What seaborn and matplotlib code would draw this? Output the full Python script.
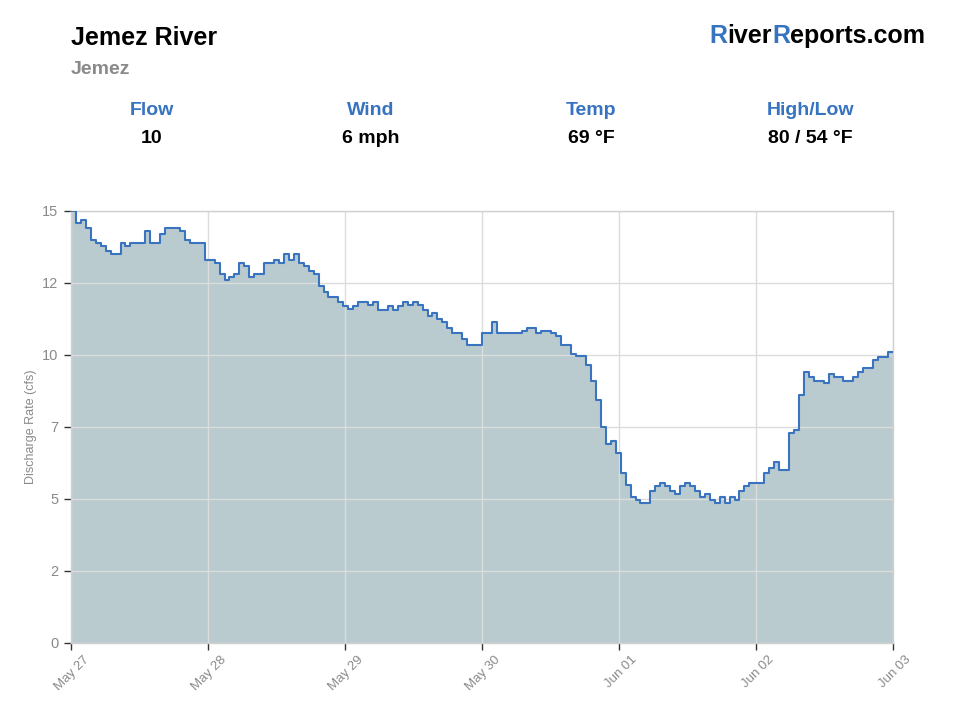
import numpy as np
import pandas as pd
import matplotlib
matplotlib.use("Agg")
import matplotlib.pyplot as plt
import matplotlib.transforms as mtransforms
import seaborn as sns
from matplotlib.offsetbox import TextArea, HPacker, AnnotationBbox

# --- Datos (caudal horario, cfs) ---
flow_cfs = [
    15.0, 14.6, 14.7, 14.4, 14.0, 13.9, 13.8, 13.6, 13.5, 13.5,
    13.9, 13.8, 13.9, 13.9, 13.9, 14.3, 13.9, 13.9, 14.2, 14.4,
    14.4, 14.4, 14.3, 14.0, 13.9, 13.9, 13.9, 13.3, 13.3, 13.2,
    12.8, 12.6, 12.7, 12.8, 13.2, 13.1, 12.7, 12.8, 12.8, 13.2,
    13.2, 13.3, 13.2, 13.5, 13.3, 13.5, 13.2, 13.1, 12.9, 12.8,
    12.4, 12.2, 12.0, 12.0, 11.85, 11.7, 11.6, 11.7, 11.85, 11.85,
    11.75, 11.85, 11.55, 11.55, 11.7, 11.55, 11.7, 11.85, 11.75, 11.85,
    11.75, 11.55, 11.35, 11.45, 11.25, 11.15, 10.95, 10.75, 10.75, 10.55,
    10.35, 10.35, 10.35, 10.75, 10.75, 11.15, 10.75, 10.75, 10.75, 10.75,
    10.75, 10.85, 10.95, 10.95, 10.75, 10.85, 10.85, 10.75, 10.65, 10.35,
    10.35, 10.05, 9.95, 9.95, 9.65, 9.1, 8.45, 7.5, 6.9, 7.0,
    6.6, 5.9, 5.5, 5.08, 4.97, 4.87, 4.87, 5.28, 5.46, 5.56,
    5.46, 5.28, 5.17, 5.46, 5.56, 5.46, 5.28, 5.06, 5.17, 4.97,
    4.87, 5.06, 4.87, 5.06, 4.97, 5.28, 5.46, 5.56, 5.56, 5.56,
    5.89, 6.06, 6.27, 5.99, 5.99, 7.28, 7.4, 8.61, 9.42, 9.25,
    9.11, 9.11, 9.02, 9.33, 9.22, 9.22, 9.11, 9.11, 9.22, 9.41,
    9.54, 9.54, 9.83, 9.94, 9.94, 10.11,
]
x_tick_labels = ["May 27", "May 28", "May 29", "May 30", "Jun 01", "Jun 02", "Jun 03"]
y_tick_values = [0, 2.5, 5, 7.5, 10, 12.5, 15]
y_tick_labels = ["0", "2", "5", "7", "10", "12", "15"]
stat_names = ["Flow", "Wind", "Temp", "High/Low"]
stat_values = ["10", "6 mph", "69 °F", "80 / 54 °F"]
river_name = "Jemez River"
station_name = "Jemez"

# --- Estética ---
BLUE = "#3673c0"
LINE = "#3a74c0"
FILL = "#b9cbce"
GREY = "#8a8a8a"

sns.set_theme(style="whitegrid")
plt.rcParams["font.family"] = ["Liberation Sans", "DejaVu Sans"]

# escalón "post": repetimos el último valor para cerrar el final
n = len(flow_cfs)
df = pd.DataFrame({"hour": np.arange(n + 1), "flow": flow_cfs + [flow_cfs[-1]]})

fig = plt.figure(figsize=(9.6, 7.2), dpi=100)
ax = fig.add_axes([71 / 960, 1 - 643 / 720, 822 / 960, 432 / 720])

ax.fill_between(df["hour"], df["flow"], step="post", color=FILL, zorder=1, linewidth=0)
sns.lineplot(data=df, x="hour", y="flow", drawstyle="steps-post", color=LINE,
             linewidth=1.5, ax=ax, zorder=3)

ax.set_xlim(0, n)
ax.set_ylim(0, 15)
ax.set_axisbelow("line")
ax.grid(True, color="#dcdcdc", linewidth=1)

ax.tick_params(axis="both", which="both", length=5, width=1, color="#333333",
               left=True, bottom=True, pad=4)

ax.set_xticks(np.linspace(0, n, len(x_tick_labels)))
ax.set_xticklabels(x_tick_labels, rotation=45, ha="right", va="top",
                   rotation_mode="anchor", fontsize=9.5, color=GREY)
# las etiquetas del eje x van algo desplazadas a la derecha del tick
# (después de tick_params, que reinicia las transformaciones)
shift = mtransforms.ScaledTranslation(12 / 100, 2 / 100, fig.dpi_scale_trans)
for lbl in ax.get_xticklabels():
    lbl.set_transform(lbl.get_transform() + shift)

ax.set_yticks(y_tick_values)
ax.set_yticklabels(y_tick_labels, fontsize=10.5, color=GREY)

ax.set_xlabel("")
ax.set_ylabel("Discharge Rate (cfs)", fontsize=9, color=GREY, labelpad=4)

for side in ["top", "right", "bottom", "left"]:
    ax.spines[side].set_color("#d0d0d0")
    ax.spines[side].set_linewidth(1)

# --- Cabecera ---
fig.text(71 / 960, 1 - 45 / 720, river_name, fontsize=18, fontweight="bold",
         color="black", ha="left", va="baseline")
fig.text(71 / 960, 1 - 74 / 720, station_name, fontsize=14, fontweight="bold",
         color=GREY, ha="left", va="baseline")

parts = [("R", BLUE), ("iver", "black"), ("R", BLUE), ("eports.com", "black")]
boxes = [TextArea(t, textprops=dict(fontsize=18, fontweight="bold", color=c)) for t, c in parts]
brand = HPacker(children=boxes, sep=0, pad=0, align="baseline")
ab = AnnotationBbox(brand, (925 / 960, 1 - 36 / 720), xycoords="figure fraction",
                    box_alignment=(1, 0.5), frameon=False, pad=0)
fig.add_artist(ab)

stat_x = [152, 371, 591, 810]
for sx, name, val in zip(stat_x, stat_names, stat_values):
    fig.text(sx / 960, 1 - 115 / 720, name, fontsize=14, fontweight="bold",
             color=BLUE, ha="center", va="baseline")
    fig.text(sx / 960, 1 - 143 / 720, val, fontsize=14, fontweight="bold",
             color="black", ha="center", va="baseline")

plt.savefig("out.png", dpi=100)
plt.close()
